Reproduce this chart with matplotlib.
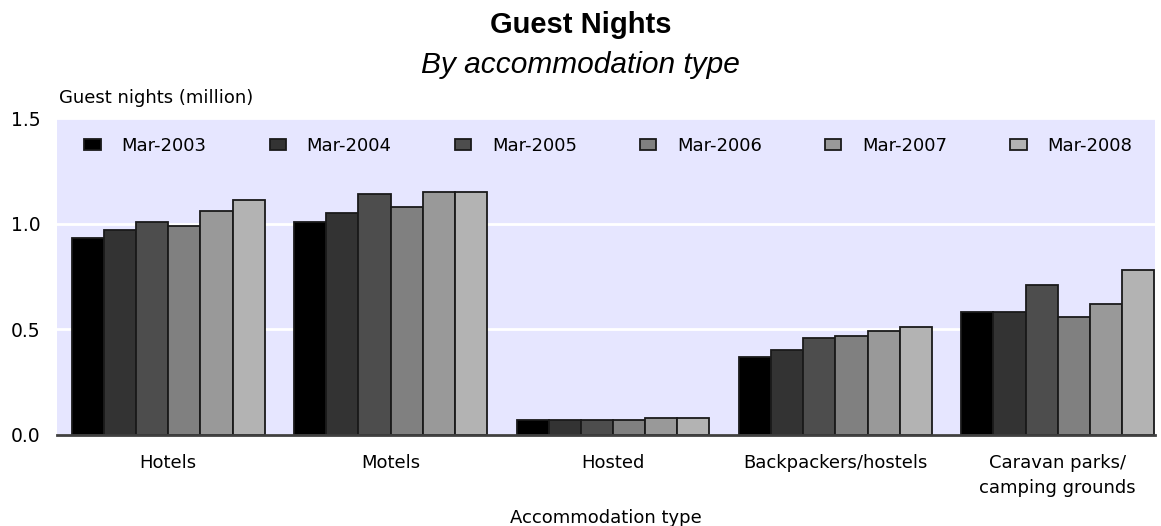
import matplotlib
matplotlib.use('agg')
import numpy as np
import matplotlib.pyplot as plt

# data (million guest nights)
categories = ['Hotels', 'Motels', 'Hosted', 'Backpackers/hostels',
              'Caravan parks/\ncamping grounds']
periods = ['Mar-2003', 'Mar-2004', 'Mar-2005', 'Mar-2006', 'Mar-2007', 'Mar-2008']
mar_2003 = [0.93, 1.01, 0.07, 0.37, 0.58]
mar_2004 = [0.97, 1.05, 0.07, 0.40, 0.58]
mar_2005 = [1.01, 1.14, 0.07, 0.46, 0.71]
mar_2006 = [0.99, 1.08, 0.07, 0.47, 0.56]
mar_2007 = [1.06, 1.15, 0.08, 0.49, 0.62]
mar_2008 = [1.11, 1.15, 0.08, 0.51, 0.78]
series = [mar_2003, mar_2004, mar_2005, mar_2006, mar_2007, mar_2008]
yticks = [0.0, 0.5, 1.0, 1.5]

colors = ['#000000', '#333333', '#4d4d4d', '#808080', '#999999', '#b3b3b3']
small = 13

fig = plt.figure(figsize=(11.61, 5.26), dpi=100)
ax = fig.add_axes([57 / 1161, 91 / 526, 1098 / 1161, 317 / 526])
ax.set_facecolor('#e6e6ff')

x = np.arange(len(categories))
w = 0.1446
handles = []
for i, (vals, lab) in enumerate(zip(series, periods)):
    b = ax.bar(x - 2.5 * w + i * w, vals, width=w, color=colors[i],
               edgecolor='#1a1a1a', linewidth=1.3, label=lab, zorder=3)
    handles.append(b)

ax.set_xlim(-0.5, 4.437)
ax.set_ylim(0, 1.5)
ax.set_yticks(yticks)
ax.set_yticklabels(['%.1f' % v for v in yticks], fontsize=small + 0.5)
ax.set_xticks(x)
ax.set_xticklabels(categories, fontsize=small, linespacing=1.45, va='top')
ax.tick_params(axis='both', length=0)
ax.tick_params(axis='y', pad=12)
ax.tick_params(axis='x', pad=14)
ax.grid(axis='y', color='white', linewidth=2, zorder=1)
for s in ['top', 'right', 'left']:
    ax.spines[s].set_visible(False)
ax.spines['bottom'].set_color('#404040')
ax.spines['bottom'].set_linewidth(2)
ax.spines['bottom'].set_zorder(4)

ax.legend(handles=handles, ncol=6, loc='center left', bbox_to_anchor=(0.025, 0.912),
          frameon=False, fontsize=small, handlelength=0.9, handleheight=0.6,
          handletextpad=1.15, columnspacing=3.5, borderpad=0, borderaxespad=0)

fig.text(0.5, 1 - 25 / 526, 'Guest Nights', ha='center', va='center',
         family='Liberation Sans', fontweight='bold', fontsize=21)
fig.text(0.5, 1 - 65 / 526, 'By accommodation type', ha='center', va='center',
         family='Liberation Sans', style='italic', fontsize=21.5)
fig.text(59 / 1161, 1 - 98 / 526, 'Guest nights (million)', ha='left', va='center',
         fontsize=small)
fig.text(606 / 1161, 1 - 518 / 526, 'Accommodation type', ha='center', va='center',
         fontsize=small)

fig.savefig('out.png', dpi=100)
